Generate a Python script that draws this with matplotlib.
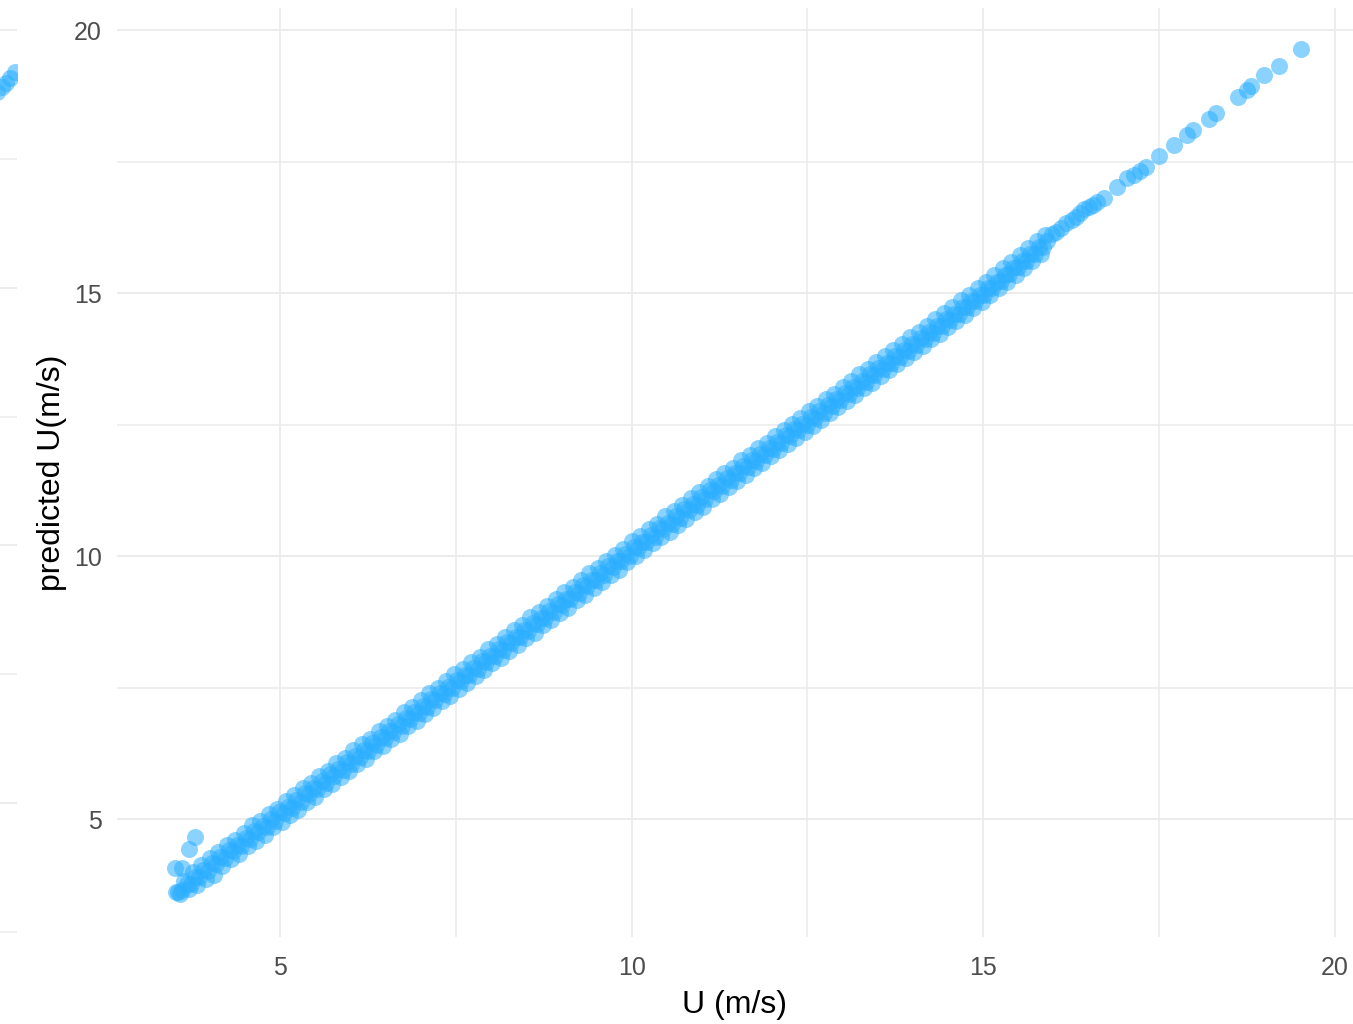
import matplotlib
matplotlib.use("Agg")
import matplotlib.pyplot as plt
from matplotlib.ticker import MultipleLocator

plt.rcParams['font.family'] = ['Liberation Sans', 'DejaVu Sans']

# observed wind speed (x) and predicted wind speed (y) -- dense band, outer rows
u_obs = [
    3.52, 3.58, 3.64, 3.70, 3.76, 3.82, 3.88, 3.94, 4.00, 4.06,
    4.12, 4.18, 4.24, 4.30, 4.36, 4.42, 4.48, 4.54, 4.60, 4.66,
    4.72, 4.78, 4.84, 4.90, 4.96, 5.02, 5.08, 5.14, 5.20, 5.26,
    5.32, 5.38, 5.44, 5.50, 5.56, 5.62, 5.68, 5.74, 5.80, 5.86,
    5.92, 5.98, 6.04, 6.10, 6.16, 6.22, 6.28, 6.34, 6.40, 6.46,
    6.52, 6.58, 6.64, 6.70, 6.76, 6.82, 6.88, 6.94, 7.00, 7.06,
    7.12, 7.18, 7.24, 7.30, 7.36, 7.42, 7.48, 7.54, 7.60, 7.66,
    7.72, 7.78, 7.84, 7.90, 7.96, 8.02, 8.08, 8.14, 8.20, 8.26,
    8.32, 8.38, 8.44, 8.50, 8.56, 8.62, 8.68, 8.74, 8.80, 8.86,
    8.92, 8.98, 9.04, 9.10, 9.16, 9.22, 9.28, 9.34, 9.40, 9.46,
    9.52, 9.58, 9.64, 9.70, 9.76, 9.82, 9.88, 9.94, 10.00, 10.06,
    10.12, 10.18, 10.24, 10.30, 10.36, 10.42, 10.48, 10.54, 10.60, 10.66,
    10.72, 10.78, 10.84, 10.90, 10.96, 11.02, 11.08, 11.14, 11.20, 11.26,
    11.32, 11.38, 11.44, 11.50, 11.56, 11.62, 11.68, 11.74, 11.80, 11.86,
    11.92, 11.98, 12.04, 12.10, 12.16, 12.22, 12.28, 12.34, 12.40, 12.46,
    12.52, 12.58, 12.64, 12.70, 12.76, 12.82, 12.88, 12.94, 13.00, 13.06,
    13.12, 13.18, 13.24, 13.30, 13.36, 13.42, 13.48, 13.54, 13.60, 13.66,
    13.72, 13.78, 13.84, 13.90, 13.96, 14.02, 14.08, 14.14, 14.20, 14.26,
    14.32, 14.38, 14.44, 14.50, 14.56, 14.62, 14.68, 14.74, 14.80, 14.86,
    14.92, 14.98, 15.04, 15.10, 15.16, 15.22, 15.28, 15.34, 15.40, 15.46,
    15.52, 15.58, 15.64, 15.70, 15.76, 15.82, 15.88,
]
u_pred = [
    3.61, 3.57, 3.83, 3.67, 4.00, 3.75, 4.12, 3.87, 4.27, 3.94,
    4.37, 4.11, 4.51, 4.24, 4.60, 4.34, 4.74, 4.49, 4.88, 4.59,
    4.97, 4.70, 5.10, 4.85, 5.20, 4.95, 5.35, 5.08, 5.45, 5.18,
    5.59, 5.32, 5.69, 5.43, 5.82, 5.57, 5.92, 5.66, 6.07, 5.80,
    6.17, 5.91, 6.32, 6.04, 6.42, 6.14, 6.53, 6.29, 6.67, 6.39,
    6.78, 6.52, 6.88, 6.62, 7.03, 6.77, 7.13, 6.87, 7.26, 7.00,
    7.39, 7.11, 7.49, 7.25, 7.62, 7.34, 7.76, 7.48, 7.85, 7.59,
    7.98, 7.72, 8.08, 7.83, 8.23, 7.97, 8.33, 8.06, 8.46, 8.20,
    8.59, 8.31, 8.69, 8.44, 8.84, 8.54, 8.94, 8.69, 9.05, 8.79,
    9.18, 8.92, 9.31, 9.02, 9.41, 9.17, 9.54, 9.27, 9.68, 9.40,
    9.77, 9.51, 9.90, 9.64, 10.03, 9.74, 10.13, 9.89, 10.28, 10.00,
    10.38, 10.11, 10.51, 10.25, 10.61, 10.36, 10.76, 10.46, 10.86, 10.60,
    10.97, 10.71, 11.11, 10.84, 11.22, 10.94, 11.33, 11.09, 11.47, 11.19,
    11.58, 11.32, 11.68, 11.42, 11.82, 11.55, 11.93, 11.68, 12.05, 11.77,
    12.16, 11.90, 12.29, 12.01, 12.39, 12.13, 12.52, 12.24, 12.63, 12.36,
    12.75, 12.48, 12.86, 12.59, 12.99, 12.72, 13.09, 12.83, 13.22, 12.94,
    13.33, 13.06, 13.46, 13.19, 13.56, 13.29, 13.69, 13.42, 13.80, 13.53,
    13.92, 13.65, 14.03, 13.76, 14.16, 13.89, 14.27, 14.00, 14.38, 14.12,
    14.50, 14.23, 14.63, 14.36, 14.73, 14.47, 14.86, 14.59, 14.97, 14.71,
    15.09, 14.83, 15.22, 14.96, 15.34, 15.09, 15.47, 15.22, 15.60, 15.35,
    15.73, 15.48, 15.86, 15.61, 15.99, 15.74, 16.11,
]

# dense band, inner rows (points lying between the ones above)
u_obs2 = [
    3.55, 3.61, 3.67, 3.73, 3.79, 3.85, 3.91, 3.97, 4.03, 4.09,
    4.15, 4.21, 4.27, 4.33, 4.39, 4.45, 4.51, 4.57, 4.63, 4.69,
    4.75, 4.81, 4.87, 4.93, 4.99, 5.05, 5.11, 5.17, 5.23, 5.29,
    5.35, 5.41, 5.47, 5.53, 5.59, 5.65, 5.71, 5.77, 5.83, 5.89,
    5.95, 6.01, 6.07, 6.13, 6.19, 6.25, 6.31, 6.37, 6.43, 6.49,
    6.55, 6.61, 6.67, 6.73, 6.79, 6.85, 6.91, 6.97, 7.03, 7.09,
    7.15, 7.21, 7.27, 7.33, 7.39, 7.45, 7.51, 7.57, 7.63, 7.69,
    7.75, 7.81, 7.87, 7.93, 7.99, 8.05, 8.11, 8.17, 8.23, 8.29,
    8.35, 8.41, 8.47, 8.53, 8.59, 8.65, 8.71, 8.77, 8.83, 8.89,
    8.95, 9.01, 9.07, 9.13, 9.19, 9.25, 9.31, 9.37, 9.43, 9.49,
    9.55, 9.61, 9.67, 9.73, 9.79, 9.85, 9.91, 9.97, 10.03, 10.09,
    10.15, 10.21, 10.27, 10.33, 10.39, 10.45, 10.51, 10.57, 10.63, 10.69,
    10.75, 10.81, 10.87, 10.93, 10.99, 11.05, 11.11, 11.17, 11.23, 11.29,
    11.35, 11.41, 11.47, 11.53, 11.59, 11.65, 11.71, 11.77, 11.83, 11.89,
    11.95, 12.01, 12.07, 12.13, 12.19, 12.25, 12.31, 12.37, 12.43, 12.49,
    12.55, 12.61, 12.67, 12.73, 12.79, 12.85, 12.91, 12.97, 13.03, 13.09,
    13.15, 13.21, 13.27, 13.33, 13.39, 13.45, 13.51, 13.57, 13.63, 13.69,
    13.75, 13.81, 13.87, 13.93, 13.99, 14.05, 14.11, 14.17, 14.23, 14.29,
    14.35, 14.41, 14.47, 14.53, 14.59, 14.65, 14.71, 14.77, 14.83, 14.89,
    14.95, 15.01, 15.07, 15.13, 15.19, 15.25, 15.31, 15.37, 15.43, 15.49,
    15.55, 15.61, 15.67, 15.73, 15.79, 15.85, 15.91,
]
u_pred2 = [
    3.61, 3.66, 3.77, 3.77, 3.91, 3.90, 4.04, 4.01, 4.17, 4.14,
    4.28, 4.26, 4.41, 4.39, 4.51, 4.49, 4.64, 4.62, 4.77, 4.75,
    4.87, 4.86, 5.00, 4.97, 5.13, 5.11, 5.23, 5.22, 5.36, 5.33,
    5.49, 5.47, 5.59, 5.58, 5.72, 5.69, 5.85, 5.83, 5.95, 5.94,
    6.08, 6.05, 6.21, 6.19, 6.31, 6.30, 6.44, 6.41, 6.57, 6.55,
    6.67, 6.66, 6.80, 6.77, 6.93, 6.91, 7.03, 7.02, 7.16, 7.13,
    7.29, 7.27, 7.39, 7.38, 7.52, 7.49, 7.65, 7.63, 7.75, 7.74,
    7.88, 7.85, 8.01, 7.99, 8.11, 8.10, 8.24, 8.21, 8.37, 8.35,
    8.47, 8.46, 8.60, 8.57, 8.73, 8.71, 8.83, 8.82, 8.96, 8.93,
    9.09, 9.07, 9.19, 9.18, 9.32, 9.29, 9.45, 9.43, 9.55, 9.54,
    9.68, 9.65, 9.81, 9.79, 9.91, 9.90, 10.04, 10.01, 10.17, 10.15,
    10.27, 10.26, 10.40, 10.37, 10.53, 10.51, 10.63, 10.62, 10.76, 10.73,
    10.89, 10.87, 10.99, 10.98, 11.12, 11.09, 11.25, 11.23, 11.35, 11.34,
    11.48, 11.45, 11.59, 11.58, 11.71, 11.69, 11.82, 11.81, 11.95, 11.92,
    12.06, 12.04, 12.17, 12.15, 12.30, 12.28, 12.41, 12.39, 12.52, 12.50,
    12.64, 12.62, 12.75, 12.73, 12.88, 12.86, 12.99, 12.97, 13.10, 13.08,
    13.22, 13.20, 13.33, 13.31, 13.46, 13.44, 13.57, 13.55, 13.68, 13.67,
    13.80, 13.78, 13.92, 13.90, 14.03, 14.02, 14.15, 14.13, 14.26, 14.25,
    14.38, 14.37, 14.50, 14.49, 14.61, 14.60, 14.74, 14.73, 14.85, 14.85,
    14.97, 14.97, 15.10, 15.10, 15.22, 15.23, 15.35, 15.36, 15.48, 15.49,
    15.61, 15.62, 15.74, 15.75, 15.87, 15.88, 16.00,
]

# sparse high-wind points
u_obs_high = [15.98, 16.04, 16.10, 16.18, 16.26, 16.32, 16.38, 16.44, 16.50, 16.56,
              16.62, 16.72, 16.90, 17.04, 17.14, 17.23, 17.31, 17.50, 17.71, 17.90,
              17.98, 18.21, 18.31, 18.62, 18.75, 18.81, 19.00, 19.21, 19.52]
u_pred_high = [16.13, 16.16, 16.23, 16.33, 16.39, 16.44, 16.52, 16.60, 16.64, 16.68,
               16.74, 16.80, 17.02, 17.18, 17.24, 17.33, 17.40, 17.60, 17.81, 18.00,
               18.10, 18.31, 18.43, 18.72, 18.86, 18.94, 19.15, 19.32, 19.64]

# low-wind outliers
u_obs_out = [3.51, 3.60, 3.70, 3.79]
u_pred_out = [4.07, 4.07, 4.44, 4.66]

# neighbouring (cropped) panel on the left
left_x = [20.02, 20.08, 20.14, 20.20, 20.27]
left_y = [18.80, 18.90, 18.98, 19.08, 19.18]

x_ticks = [5, 10, 15, 20]
y_ticks = [5, 10, 15, 20]

W, H = 1353, 1024
fig = plt.figure(figsize=(W / 100, H / 100), dpi=100)

color = '#2BAEFF'
alpha = 0.55
msize = 150
grid_c = '#EBEBEB'

# main panel: px 117..1353 horizontally, 8..937 vertically
ax = fig.add_axes([117 / W, (H - 937) / H, (W - 117) / W, (937 - 8) / H])
ax.scatter(u_obs, u_pred, s=msize, color=color, alpha=alpha, linewidths=0)
ax.scatter(u_obs2, u_pred2, s=msize, color=color, alpha=alpha, linewidths=0)
ax.scatter(u_obs_high, u_pred_high, s=msize, color=color, alpha=alpha, linewidths=0)
ax.scatter(u_obs_out, u_pred_out, s=msize, color=color, alpha=alpha, linewidths=0)

ax.set_xlim(2.68, 20.26)
ax.set_ylim(2.76, 20.42)
ax.set_xticks(x_ticks)
ax.set_yticks(y_ticks)
ax.xaxis.set_minor_locator(MultipleLocator(2.5))
ax.yaxis.set_minor_locator(MultipleLocator(2.5))
ax.grid(True, which='major', color=grid_c, linewidth=1.3)
ax.grid(True, which='minor', color=grid_c, linewidth=1.1)
ax.set_axisbelow(True)
for s in ax.spines.values():
    s.set_visible(False)
ax.tick_params(which='both', length=0)
ax.tick_params(axis='x', pad=14, labelsize=18, labelcolor='#4D4D4D')
ax.tick_params(axis='y', pad=11, labelsize=18, labelcolor='#4D4D4D')
ax.set_xlabel('U (m/s)', fontsize=23, color='black', labelpad=7)
ax.set_ylabel('predicted U(m/s)', fontsize=23, color='black', labelpad=5)

# cropped neighbouring panel (only its right edge is visible)
ax2 = fig.add_axes([(17 - 1236) / W, (H - 937) / H, 1236 / W, (937 - 8) / H])
ax2.scatter(left_x, left_y, s=msize, color=color, alpha=alpha, linewidths=0)
ax2.set_xlim(2.7, 20.3)
ax2.set_ylim(2.40, 20.43)
ax2.set_xticks([])
ax2.yaxis.set_major_locator(MultipleLocator(5))
ax2.yaxis.set_minor_locator(MultipleLocator(2.5))
ax2.set_yticklabels([])
ax2.grid(True, which='major', axis='y', color=grid_c, linewidth=1.3)
ax2.grid(True, which='minor', axis='y', color=grid_c, linewidth=1.1)
ax2.set_axisbelow(True)
ax2.tick_params(which='both', length=0)
for s in ax2.spines.values():
    s.set_visible(False)

fig.savefig('out.png', dpi=100)
